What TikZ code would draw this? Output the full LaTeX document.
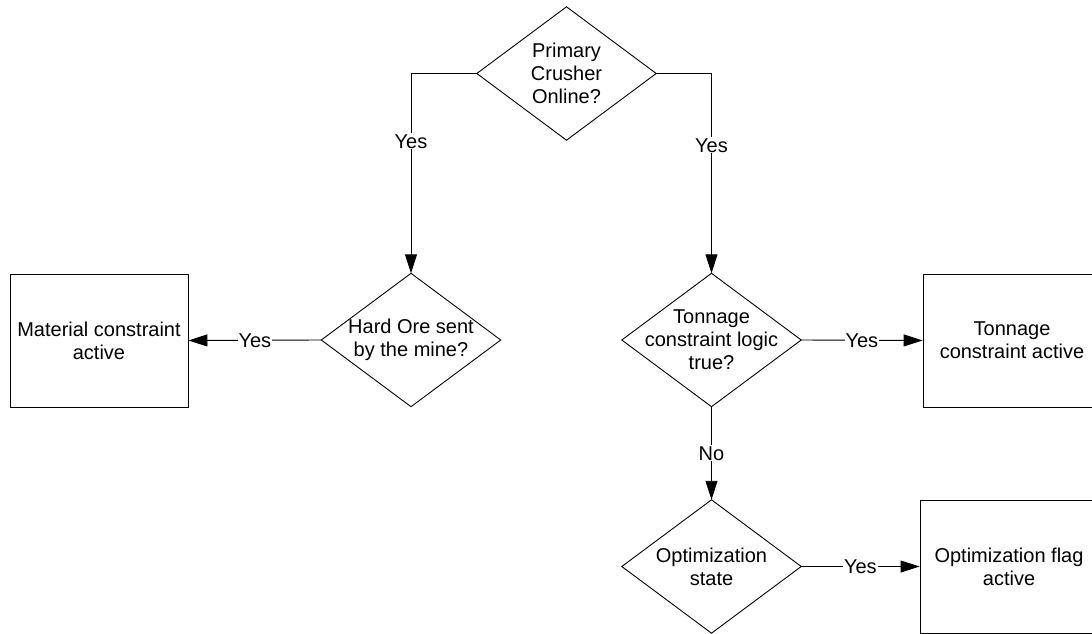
\documentclass[tikz,border=0pt]{standalone}
\usepackage{fontspec}
\setmainfont{Liberation Sans}
\usetikzlibrary{arrows.meta}
\begin{document}
\begin{tikzpicture}[x=1pt,y=-1pt,
  every node/.style={font=\fontsize{20pt}{23pt}\selectfont},
  decision/.style={minimum width=179pt, minimum height=133pt, inner sep=0pt, align=center},
  outline/.style={draw, line width=0.9pt},
  outcome/.style={outline, minimum width=178pt, minimum height=133pt,
    inner sep=0pt, align=center},
  flow/.style={outline, -{Triangle[length=19pt,width=12pt]}},
  lbl/.style={fill=white, inner sep=1pt}]
\useasboundingbox (0,0) rectangle (1092,634);
\clip (0,0) rectangle (1092,634);

% decisions (text area; the diamond outline is drawn below)
\node[decision] (primary) at (566.5,73.5) {Primary\\Crusher\\Online?};
\node[decision] (hardore) at (411,340) {Hard Ore sent\\by the mine?};
\node[decision] (tonlogic) at (711.5,340) {Tonnage\\constraint logic\\true?};
\node[decision] (optstate) at (711.5,566.5) {Optimization\\state};
\foreach \d in {primary,hardore,tonlogic,optstate}
  \path[outline] (\d.north) -- (\d.east) -- (\d.south) -- (\d.west) -- cycle;

% outcomes
\node[outcome] (material) at (99,340.5) {Material constraint\\active};
\node[outcome] (tonbox) at (1012,340.5) {Tonnage\\constraint active};
\node[outcome] (optbox) at (1009,566.5) {Optimization flag\\active};

% connectors
\path[flow] (primary.west) -| node[lbl,pos=0.67] {Yes} (hardore.north);
\path[flow] (primary.east) -| node[lbl,pos=0.68] {Yes} (tonlogic.north);
\path[flow] (hardore.west) -- node[lbl] {Yes} (material.east);
\path[flow] (tonlogic.east) -- node[lbl] {Yes} (tonbox.west);
\path[flow] (tonlogic.south) -- node[lbl] {No} (optstate.north);
\path[flow] (optstate.east) -- node[lbl] {Yes} (optbox.west);
\end{tikzpicture}
\end{document}
